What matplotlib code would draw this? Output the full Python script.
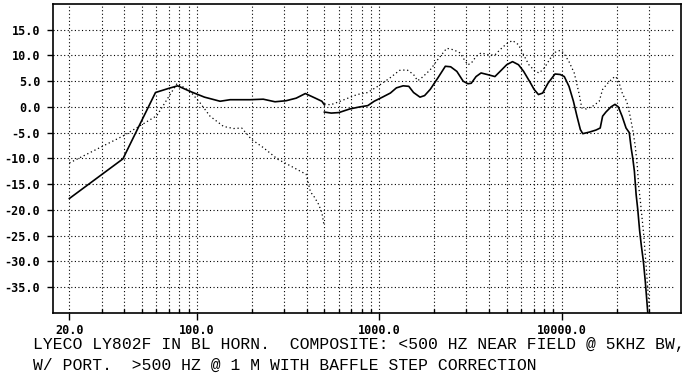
import numpy as np
import matplotlib
matplotlib.use("Agg")
import matplotlib.pyplot as plt
from matplotlib.ticker import FixedLocator, NullFormatter

# low band (< 500 Hz): near field measurements
low_solid_f = [20, 39.3, 59.3, 70, 78.4, 92, 110, 134, 152, 196, 231, 268, 308, 350, 393, 446, 484, 500]
low_solid_db = [-17.8, -10.1, 2.8, 3.6, 4.1, 3.0, 1.9, 1.1, 1.4, 1.4, 1.5, 1.0, 1.2, 1.7, 2.6, 1.7, 1.1, 0.4]

low_dot_f = [20, 39.6, 60.3, 78, 92, 104, 118, 140, 159, 176, 199, 231, 278, 308, 369, 397, 419, 440, 464, 484, 498]
low_dot_db = [-10.9, -5.6, -1.7, 4.6, 3.0, 0.8, -1.8, -3.8, -4.2, -4.1, -6.3, -7.9, -10.2, -11.0, -12.5, -13.1, -16.5, -17.5, -18.9, -20.5, -23.1]

# high band (> 500 Hz): 1 m measurement
hi_solid_f = [500, 545, 600, 688, 780, 864, 937, 1040, 1150, 1240, 1350, 1450, 1540, 1670, 1770, 1900,
              2090, 2300, 2460, 2660, 2880, 3060, 3190, 3390, 3610, 3900, 4300, 4680, 4990, 5370, 5790,
              6180, 6750, 7050, 7450, 7860, 8400, 9180, 9800, 10320, 10950, 11580, 12110, 12640, 13030,
              14150, 15390, 16240, 16740, 17450, 18600, 19570, 20410, 21400, 22500, 23440, 24000, 24500,
              25000, 25550, 26100, 26700, 27300, 28000, 28700, 29300, 29600]
hi_solid_db = [-1.0, -1.2, -1.1, -0.4, 0.0, 0.25, 1.1, 1.9, 2.7, 3.7, 4.1, 4.0, 2.8, 1.9, 2.2, 3.4,
               5.6, 7.9, 7.8, 6.9, 5.0, 4.5, 4.6, 5.9, 6.6, 6.3, 5.9, 7.2, 8.2, 8.8, 8.2,
               6.9, 4.6, 3.4, 2.4, 2.7, 4.6, 6.4, 6.3, 5.9, 4.0, 1.1, -1.8, -4.4, -5.2,
               -4.9, -4.5, -4.1, -1.8, -1.0, 0.0, 0.5, 0.0, -1.8, -4.1, -5.0, -8.0, -10.0,
               -12.5, -17.0, -20.0, -24.0, -27.0, -30.0, -34.0, -38.0, -40.0]

hi_dot_f = [500, 540, 600, 640, 755, 864, 980, 1140, 1290, 1420, 1540, 1620, 1700, 1900, 2090, 2340,
            2550, 2770, 2880, 3060, 3190, 3390, 3610, 4000, 4300, 4580, 4990, 5370, 5790, 6180, 6600,
            7150, 7520, 8040, 8600, 9180, 9800, 10230, 10950, 11700, 12450, 12870, 13650, 14950,
            16040, 16740, 17850, 19020, 19780, 20640, 21580, 22690, 23700, 24470, 25270, 25930,
            26400, 26960, 28050, 29000, 29600, 29970, 30200]
hi_dot_db = [0.6, 0.4, 1.0, 1.4, 2.4, 2.8, 4.0, 5.6, 7.1, 7.2, 6.3, 5.1, 5.6, 7.2, 9.2, 11.4,
             11.1, 10.5, 9.5, 8.2, 8.5, 9.8, 10.5, 10.1, 10.1, 11.1, 12.3, 12.9, 12.1, 10.1, 8.2,
             6.9, 6.6, 7.6, 9.3, 10.6, 11.0, 10.5, 8.8, 6.6, 2.5, -0.2, -0.4, 0.25,
             1.1, 3.4, 4.6, 5.6, 5.9, 4.6, 2.4, 1.1, -1.8, -4.4, -7.6, -11.5,
             -15.4, -18.3, -24.4, -30.9, -35.4, -38.0, -39.3]

y_ticks = [-35, -30, -25, -20, -15, -10, -5, 0, 5, 10, 15]
x_labels = {20: "20.0", 100: "100.0", 1000: "1000.0", 10000: "10000.0"}
caption = ["LYECO LY802F IN BL HORN.  COMPOSITE: <500 HZ NEAR FIELD @ 5KHZ BW,",
           "W/ PORT.  >500 HZ @ 1 M WITH BAFFLE STEP CORRECTION"]

fig = plt.figure(figsize=(6.95, 3.75), dpi=100)
ax = fig.add_axes([0.0758, 0.1661, 0.904, 0.8232])

dots = (0, (1, 2.2))
grid_x = [m * 10 ** e for e in range(1, 5) for m in range(1, 10)]
grid_x = [g for g in grid_x if 20 <= g <= 30000]
for g in grid_x:
    ax.axvline(g, color="black", lw=0.8, ls=dots, zorder=1)
for yv in y_ticks:
    ax.plot([16.2, 41000], [yv, yv], color="black", lw=0.8, ls=dots, zorder=1)

ax.plot(low_solid_f, low_solid_db, color="black", lw=1.2, zorder=3)
ax.plot(low_dot_f, low_dot_db, color="black", lw=0.9, ls=dots, zorder=3)
ax.plot(hi_solid_f, hi_solid_db, color="black", lw=1.2, zorder=3)
ax.plot(hi_dot_f, hi_dot_db, color="black", lw=0.9, ls=dots, zorder=3)

ax.set_xscale("log")
ax.set_xlim(16.2, 45000)
ax.set_ylim(-40, 20)

ax.xaxis.set_major_locator(FixedLocator(list(x_labels.keys())))
ax.set_xticklabels(list(x_labels.values()))
ax.xaxis.set_minor_locator(FixedLocator([g for g in grid_x if g not in (100, 1000, 10000, 20)]))
ax.xaxis.set_minor_formatter(NullFormatter())
ax.tick_params(axis="x", which="major", direction="out", length=5, width=1, pad=3)
ax.tick_params(axis="x", which="minor", direction="in", length=3, width=1)

ax.set_yticks(y_ticks)
ax.set_yticklabels([f"{v:.1f}" for v in y_ticks])
ax.tick_params(axis="y", direction="out", length=4, width=1, pad=5)
ax.yaxis.set_minor_locator(FixedLocator([]))

for lab in ax.get_xticklabels() + ax.get_yticklabels():
    lab.set_fontfamily("DejaVu Sans Mono")
    lab.set_fontweight("bold")
    lab.set_fontsize(8.5)

for sp in ax.spines.values():
    sp.set_linewidth(1.2)

fig.text(33 / 695, 1 - 345 / 375, caption[0], family="Liberation Mono", fontsize=11.8,
         ha="left", va="center")
fig.text(33 / 695, 1 - 365 / 375, caption[1], family="Liberation Mono", fontsize=11.8,
         ha="left", va="center")

fig.savefig("out.png", dpi=100)
